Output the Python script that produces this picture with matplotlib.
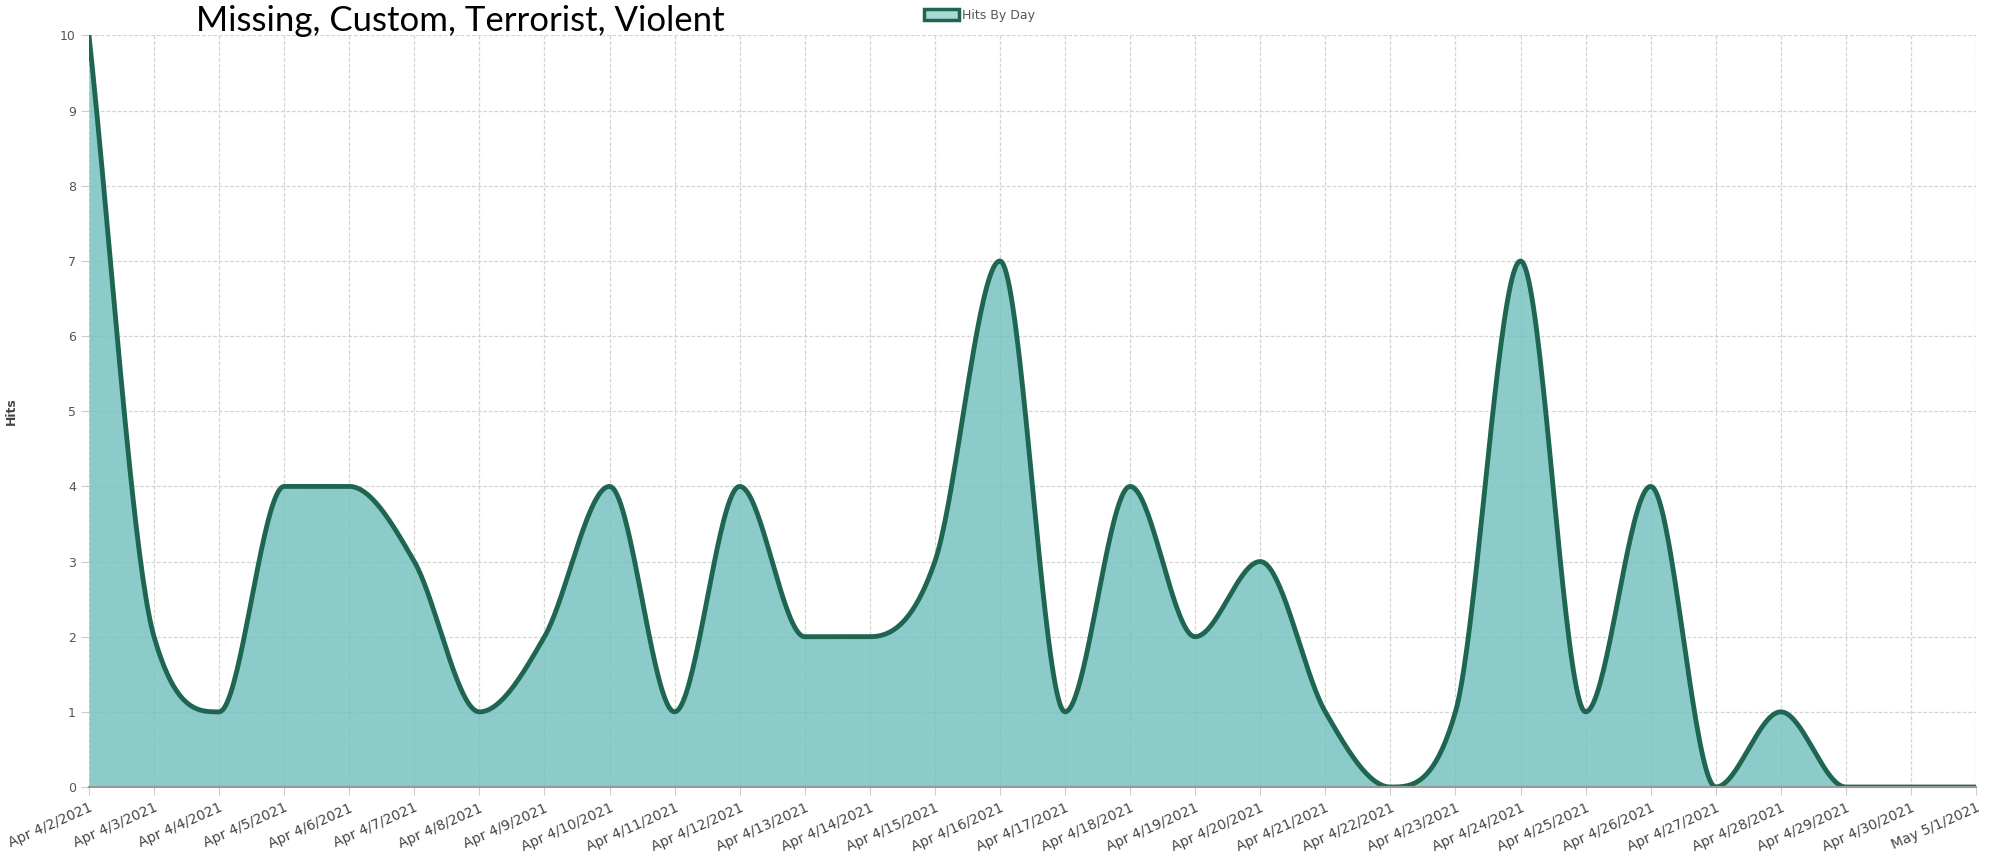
import numpy as np
import matplotlib
matplotlib.use("Agg")
import matplotlib.pyplot as plt
from matplotlib.patches import Patch

days = ["Apr 4/2/2021", "Apr 4/3/2021", "Apr 4/4/2021", "Apr 4/5/2021", "Apr 4/6/2021",
        "Apr 4/7/2021", "Apr 4/8/2021", "Apr 4/9/2021", "Apr 4/10/2021", "Apr 4/11/2021",
        "Apr 4/12/2021", "Apr 4/13/2021", "Apr 4/14/2021", "Apr 4/15/2021", "Apr 4/16/2021",
        "Apr 4/17/2021", "Apr 4/18/2021", "Apr 4/19/2021", "Apr 4/20/2021", "Apr 4/21/2021",
        "Apr 4/22/2021", "Apr 4/23/2021", "Apr 4/24/2021", "Apr 4/25/2021", "Apr 4/26/2021",
        "Apr 4/27/2021", "Apr 4/28/2021", "Apr 4/29/2021", "Apr 4/30/2021", "May 5/1/2021"]
hits = [10, 2, 1, 4, 4, 3, 1, 2, 4, 1, 4, 2, 2, 3, 7, 1, 4, 2, 3, 1, 0, 1, 7, 1, 4, 0, 1, 0, 0, 0]

title = "Missing, Custom, Terrorist, Violent"
fill_color = "#6fbfbd"
line_color = "#1f6652"


def monotone(x, y, n=40):
    # monotone cubic curve through the points (like chart.js 'monotone')
    x = np.asarray(x, float)
    y = np.asarray(y, float)
    h = np.diff(x)
    d = np.diff(y) / h
    m = np.zeros_like(y)
    m[0], m[-1] = d[0], d[-1]
    for i in range(1, len(y) - 1):
        if d[i - 1] * d[i] > 0:
            m[i] = (d[i - 1] + d[i]) / 2
    for i in range(len(d)):
        if d[i] == 0:
            m[i] = m[i + 1] = 0
            continue
        a, b = m[i] / d[i], m[i + 1] / d[i]
        s = a * a + b * b
        if s > 9:
            t = 3 / np.sqrt(s)
            m[i], m[i + 1] = t * a * d[i], t * b * d[i]
    xs, ys = [], []
    for i in range(len(d)):
        t = np.linspace(0, 1, n, endpoint=False)
        h00 = 2 * t**3 - 3 * t**2 + 1
        h10 = t**3 - 2 * t**2 + t
        h01 = -2 * t**3 + 3 * t**2
        h11 = t**3 - t**2
        xs.append(x[i] + t * h[i])
        ys.append(h00 * y[i] + h10 * h[i] * m[i] + h01 * y[i + 1] + h11 * h[i] * m[i + 1])
    xs.append([x[-1]])
    ys.append([y[-1]])
    return np.concatenate(xs), np.concatenate(ys)


x = np.arange(len(days))
cx, cy = monotone(x, hits)

fig = plt.figure(figsize=(19.99, 8.55), dpi=100)
ax = fig.add_axes([0.0445, 0.0795, 0.944, 0.879])

ax.grid(True, color="#d4d4d4", lw=0.9, ls=(0, (3, 1.5)))
ax.set_axisbelow(True)
ax.fill_between(cx, cy, 0, color=fill_color, alpha=0.8, lw=0)
ax.plot(cx, cy, color=line_color, lw=3.5, solid_capstyle="round")

ax.set_xlim(0, len(days) - 1)
ax.set_ylim(0, 10)
ax.set_yticks(range(0, 11))
ax.set_xticks(x)
ax.set_xticklabels(days, rotation=24, ha="right", rotation_mode="anchor",
                   fontsize=10, color="#444444", family="Liberation Sans Narrow")
ax.tick_params(axis="y", labelsize=9, labelcolor="#555555", length=6, color="#cccccc")
ax.tick_params(axis="x", length=6, color="#cccccc", pad=4)
for side in ["top", "right", "left"]:
    ax.spines[side].set_visible(False)
ax.spines["bottom"].set_color("#999999")
ax.spines["bottom"].set_linewidth(1.5)

ax.set_ylabel("Hits", fontsize=9, color="#444444", fontweight="bold", labelpad=30)

fig.text(0.098, 0.976, title, fontsize=25, family="Lato", va="center", ha="left")
fig.legend(handles=[Patch(facecolor="#a9d9d6", edgecolor=line_color, lw=2.5, label="Hits By Day")],
           loc="center", bbox_to_anchor=(0.49, 0.982), frameon=False, fontsize=9,
           handlelength=2.8, handleheight=1.0, labelcolor="#555555", handletextpad=0.3)

fig.savefig("out.png", dpi=100)
